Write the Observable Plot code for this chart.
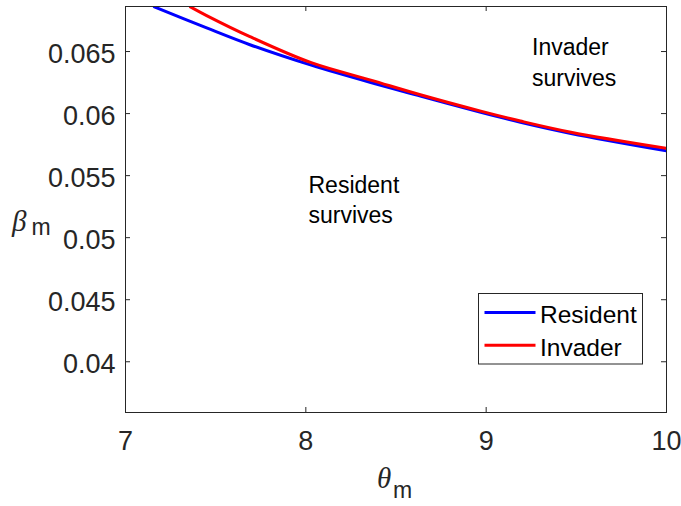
<!DOCTYPE html>
<html>
<head>
<meta charset="utf-8">
<script src="https://cdn.jsdelivr.net/npm/d3@7"></script>
<script src="https://cdn.jsdelivr.net/npm/@observablehq/plot@0.6"></script>
<style>
  body { margin: 0; background: #fff; }
  #chart { width: 681px; height: 506px; }
</style>
</head>
<body>
<div id="chart"></div>
<script>
// Invasion boundaries in the (theta_m, beta_m) plane
const seriesNames = ["Resident", "Invader"];
const seriesColors = ["#0000ff", "#ff0000"];

const residentTheta = [7.16, 7.45, 7.69, 8.03, 8.36, 8.64, 8.97, 9.19, 9.47, 10];
const residentBeta  = [0.0686, 0.0669, 0.06555, 0.0639, 0.0625, 0.0614, 0.0601, 0.0593, 0.0584, 0.0570];

const invaderTheta = [7.36, 7.45, 7.69, 8.03, 8.36, 8.64, 8.97, 9.19, 9.47, 10];
const invaderBeta  = [0.0686, 0.0679, 0.0662, 0.0641, 0.0627, 0.0615, 0.0602, 0.0594, 0.0585, 0.0572];

const xTicks = [7, 8, 9, 10];
const yTicks = [0.04, 0.045, 0.05, 0.055, 0.06, 0.065];
const regionLabels = ["Resident\nsurvives", "Invader\nsurvives"];

const rows = [
  ...residentTheta.map((t, i) => ({series: seriesNames[0], theta: t, beta: residentBeta[i]})),
  ...invaderTheta.map((t, i) => ({series: seriesNames[1], theta: t, beta: invaderBeta[i]}))
];

const ink = "#262626";
const sans = "'Liberation Sans', Arial, Helvetica, sans-serif";
const serif = "'Liberation Serif', 'Times New Roman', serif";

const W = 681, H = 506;
const mL = 125, mR = 15, mT = 6, mB = 94;
const tick = 5;                       // inward tick length, px
const frameW = W - mL - mR, frameH = H - mT - mB;

const chart = Plot.plot({
  width: W,
  height: H,
  marginLeft: mL,
  marginRight: mR,
  marginTop: mT,
  marginBottom: mB,
  style: {fontFamily: sans, color: ink, background: "#fff"},
  x: {domain: [7, 10]},
  y: {domain: [0.03591, 0.06863]},
  color: {domain: seriesNames, range: seriesColors},
  marks: [
    Plot.line(rows, {
      x: "theta", y: "beta", z: "series", stroke: "series",
      strokeWidth: 3, curve: "catmull-rom", clip: true
    }),
    Plot.text([regionLabels[0]], {
      text: d => d, frameAnchor: "top-left", textAnchor: "start", lineAnchor: "top",
      dx: 183, dy: 164.5, fontSize: 23, lineHeight: 1.32, fill: "#000"
    }),
    Plot.text([regionLabels[1]], {
      text: d => d, frameAnchor: "top-left", textAnchor: "start", lineAnchor: "top",
      dx: 406.5, dy: 26.5, fontSize: 23, lineHeight: 1.34, fill: "#000"
    }),
    // inward tick marks on all four sides
    Plot.tickY(yTicks, {y: d => d, stroke: ink, insetRight: frameW - tick}),
    Plot.tickY(yTicks, {y: d => d, stroke: ink, insetLeft: frameW - tick}),
    Plot.tickX(xTicks, {x: d => d, stroke: ink, insetTop: frameH - tick}),
    Plot.tickX(xTicks, {x: d => d, stroke: ink, insetBottom: frameH - tick}),
    // tick labels
    Plot.axisY(yTicks, {anchor: "left", tickSize: 0, tickPadding: 10, dy: 3, fontSize: 27,
      tickFormat: d => String(d), label: null}),
    Plot.axisX(xTicks, {anchor: "bottom", tickSize: 0, tickPadding: 18, fontSize: 27,
      tickFormat: d => String(d), label: null}),
    Plot.frame({stroke: ink, strokeWidth: 1})
  ]
});

document.getElementById("chart").appendChild(chart);

const svg = d3.select(chart);

// axis titles: italic Greek symbol with a roman subscript
function axisTitle(x, y, symbol, sub, subDx, subDy) {
  const g = svg.append("g").attr("fill", ink).attr("text-anchor", "start");
  g.append("text").attr("x", x).attr("y", y)
    .attr("font-family", serif).attr("font-style", "italic").attr("font-size", 29)
    .text(symbol);
  g.append("text").attr("x", x + subDx).attr("y", y + subDy)
    .attr("font-family", sans).attr("font-size", 23)
    .text(sub);
}
axisTitle(12, 231, "β", "m", 19.5, 4);
axisTitle(377, 488, "θ", "m", 16, 10);

// legend box in the lower right of the axes
const legend = svg.append("g")
  .attr("transform", "translate(478.5,293.5)")
  .attr("text-anchor", "start");
legend.append("rect")
  .attr("width", 164).attr("height", 70.5)
  .attr("fill", "#fff").attr("stroke", ink).attr("stroke-width", 1);
seriesNames.forEach((name, i) => {
  const y = 19 + i * 32.7;
  legend.append("line")
    .attr("x1", 6).attr("x2", 57).attr("y1", y).attr("y2", y)
    .attr("stroke", seriesColors[i]).attr("stroke-width", 3);
  legend.append("text")
    .attr("x", 61.5).attr("y", y + 10.4)
    .attr("font-family", sans).attr("font-size", 24.5).attr("fill", "#000")
    .text(name);
});
</script>
</body>
</html>
